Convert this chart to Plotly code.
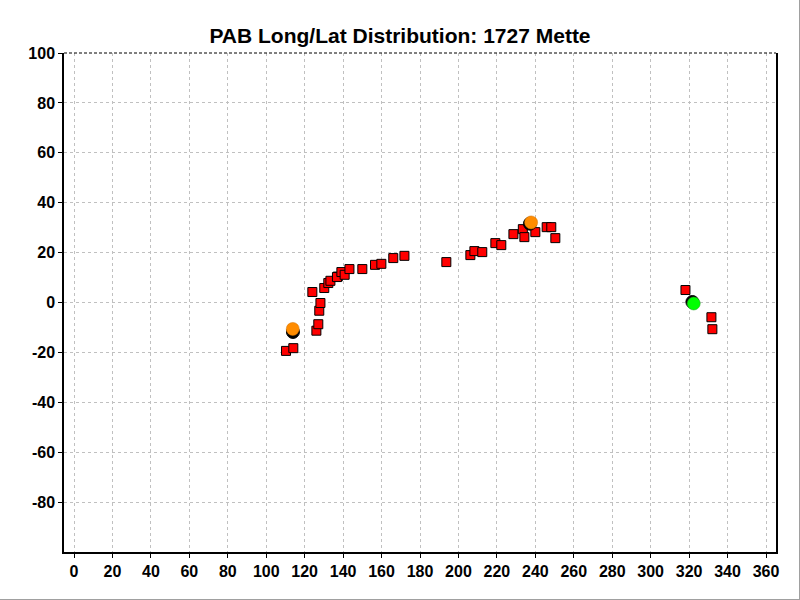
import plotly.graph_objects as go

# Red squares (longitude, latitude)
sq_lon = [110.3, 114.1, 126.1, 127.1, 127.6, 128.2, 124.0, 130.2, 132.3, 133.4, 137.2, 136.8,
          139.1, 140.8, 143.3, 150.0, 156.6, 159.9, 166.1, 171.9, 193.7, 206.2, 208.3, 212.4,
          219.2, 222.3, 228.6, 233.5, 234.3, 240.0, 245.9, 248.3, 250.4, 318.1, 331.6, 332.1]
sq_lat = [-19.4, -18.3, -11.3, -8.7, -3.3, -0.2, 4.2, 5.8, 7.8, 8.7, 10.4, 10.2,
          12.2, 11.1, 13.4, 13.4, 15.1, 15.5, 17.8, 18.7, 16.2, 19.0, 20.6, 20.2,
          23.8, 23.0, 27.4, 29.4, 26.2, 28.2, 30.2, 30.2, 25.8, 5.0, -5.9, -10.7]

# Black circles (behind)
bk_lon = [113.9, 237.2, 321.7]
bk_lat = [-11.8, 31.6, 0.2]

# Orange circles
or_lon = [113.8, 237.8]
or_lat = [-10.6, 32.1]

# Green circle
gr_lon = [322.4]
gr_lat = [-0.4]

x_ticks = list(range(0, 361, 20))
y_ticks = list(range(-80, 101, 20))

fig = go.Figure()
fig.add_trace(go.Scatter(x=sq_lon, y=sq_lat, mode="markers",
                         marker=dict(symbol="square", size=9, color="#ff0000",
                                     line=dict(color="black", width=1)),
                         showlegend=False))
fig.add_trace(go.Scatter(x=bk_lon, y=bk_lat, mode="markers",
                         marker=dict(symbol="circle", size=13, color="black",
                                     line=dict(color="black", width=1)),
                         showlegend=False))
fig.add_trace(go.Scatter(x=or_lon, y=or_lat, mode="markers",
                         marker=dict(symbol="circle", size=13, color="#ff8c00",
                                     line=dict(color="#d07000", width=0.5)),
                         showlegend=False))
fig.add_trace(go.Scatter(x=gr_lon, y=gr_lat, mode="markers",
                         marker=dict(symbol="circle", size=13, color="#00ff00",
                                     line=dict(color="#20a020", width=0.5)),
                         showlegend=False))

tickfont = dict(family="Liberation Sans, Arial, sans-serif", size=16, color="black")

L, R, T, B = 64, 24, 53, 48
PW, PH = 800 - L - R, 600 - T - B

def px_x(p):
    return (p - L) / PW

def px_y(p):
    return ((600 - B) - p) / PH

fig.update_layout(
    width=800, height=600,
    margin=dict(l=L, r=R, t=T, b=B, autoexpand=False),
    paper_bgcolor="white", plot_bgcolor="white",
    title=dict(text="<b>PAB Long/Lat Distribution: 1727 Mette</b>",
               x=0.5, xanchor="center", y=1 - 36 / 600, yanchor="middle",
               font=dict(family="Liberation Sans, Arial, sans-serif", size=21, color="black")),
    xaxis=dict(range=[-5.2, 365.2], tickvals=x_ticks, ticktext=[f"<b>{v}</b>" for v in x_ticks],
               showgrid=True, gridcolor="#c0c0c0", griddash="3px,3px", gridwidth=1,
               zeroline=False, showline=True, linecolor="black", linewidth=1.5,
               ticks="outside", ticklen=4, tickcolor="black", tickfont=tickfont,
               automargin=False),
    yaxis=dict(range=[-100, 100], tickvals=y_ticks, ticktext=[f"<b>{v}</b>" for v in y_ticks],
               showgrid=True, gridcolor="#c0c0c0", griddash="3px,3px", gridwidth=1,
               zeroline=False, showline=True, linecolor="black", linewidth=1.5, mirror=True,
               ticks="outside", ticklen=4, tickcolor="black", tickfont=tickfont,
               automargin=False),
    shapes=[
        dict(type="line", xref="paper", yref="paper", x0=0, x1=1, y0=1, y1=1,
             line=dict(color="black", width=1, dash="3px,2px")),
        dict(type="line", xref="paper", yref="paper",
             x0=px_x(799.5), x1=px_x(799.5), y0=px_y(0), y1=px_y(600),
             line=dict(color="#a0a0a0", width=1)),
        dict(type="line", xref="paper", yref="paper",
             x0=px_x(0), x1=px_x(800), y0=px_y(599.5), y1=px_y(599.5),
             line=dict(color="#a0a0a0", width=1)),
    ],
)

fig.write_html("out.html", config={"displayModeBar": False},
               post_script="document.body.style.margin='0';document.body.style.overflow='hidden';")
